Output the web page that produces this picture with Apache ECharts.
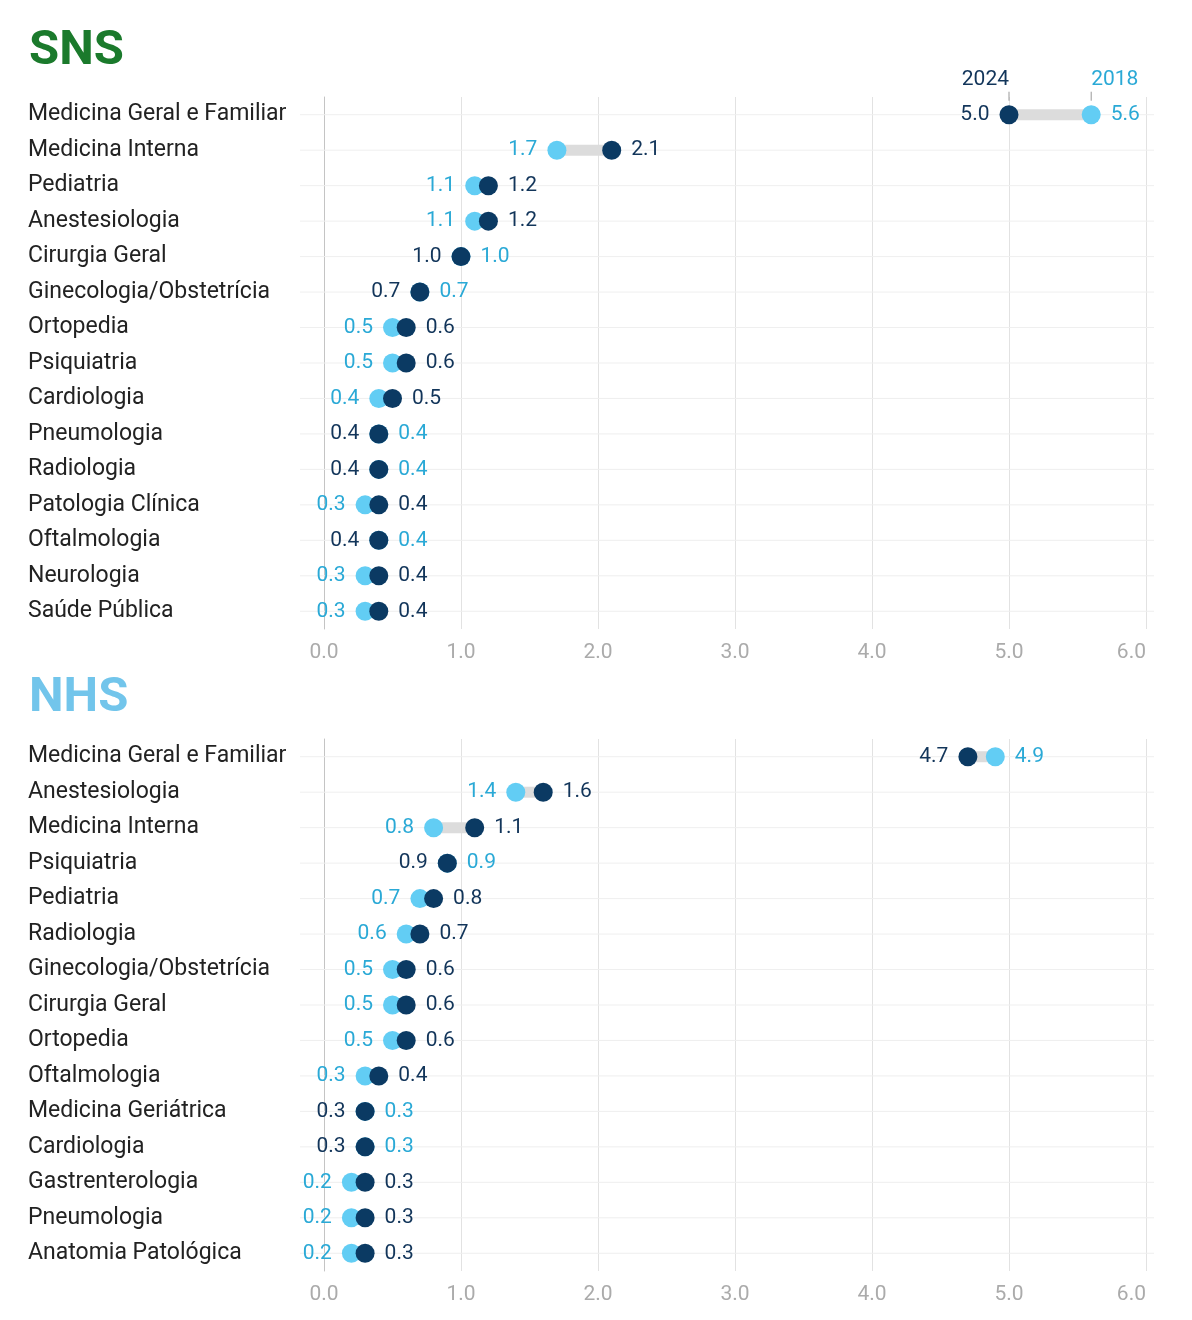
<!DOCTYPE html>
<html>
<head>
<meta charset="utf-8">
<script src="https://cdn.jsdelivr.net/npm/echarts@6/dist/echarts.min.js"></script>
<style>
  html, body { margin: 0; padding: 0; background: #fff; }
  #chart { width: 1192px; height: 1320px; }
</style>
</head>
<body>
<div id="chart"></div>
<script>
const snsCategories = ['Medicina Geral e Familiar', 'Medicina Interna', 'Pediatria', 'Anestesiologia', 'Cirurgia Geral',
  'Ginecologia/Obstetrícia', 'Ortopedia', 'Psiquiatria', 'Cardiologia', 'Pneumologia', 'Radiologia',
  'Patologia Clínica', 'Oftalmologia', 'Neurologia', 'Saúde Pública'];
const sns2024 = [5.0, 2.1, 1.2, 1.2, 1.0, 0.7, 0.6, 0.6, 0.5, 0.4, 0.4, 0.4, 0.4, 0.4, 0.4];
const sns2018 = [5.6, 1.7, 1.1, 1.1, 1.0, 0.7, 0.5, 0.5, 0.4, 0.4, 0.4, 0.3, 0.4, 0.3, 0.3];

const nhsCategories = ['Medicina Geral e Familiar', 'Anestesiologia', 'Medicina Interna', 'Psiquiatria', 'Pediatria',
  'Radiologia', 'Ginecologia/Obstetrícia', 'Cirurgia Geral', 'Ortopedia', 'Oftalmologia', 'Medicina Geriátrica',
  'Cardiologia', 'Gastrenterologia', 'Pneumologia', 'Anatomia Patológica'];
const nhs2024 = [4.7, 1.6, 1.1, 0.9, 0.8, 0.7, 0.6, 0.6, 0.6, 0.4, 0.3, 0.3, 0.3, 0.3, 0.3];
const nhs2018 = [4.9, 1.4, 0.8, 0.9, 0.7, 0.6, 0.5, 0.5, 0.5, 0.3, 0.3, 0.3, 0.2, 0.2, 0.2];

const xTicks = [0, 1, 2, 3, 4, 5, 6];
const years = ['2024', '2018'];

const DARK = '#0b3a63';
const LIGHT = '#62cdf4';
const DARK_TXT = '#12355a';
const LIGHT_TXT = '#2aa9d6';
const FONT = 'Roboto, "Noto Sans", sans-serif';

const chart = echarts.init(document.getElementById('chart'));

const grids = [
  { left: 324, right: 46, top: 97, height: 532 },
  { left: 324, right: 46, top: 739, height: 532 },
];

function xAxis(idx) {
  return {
    gridIndex: idx,
    type: 'value',
    min: xTicks[0],
    max: xTicks[xTicks.length - 1],
    interval: 1,
    axisLine: { show: false },
    axisTick: { show: false },
    splitLine: { lineStyle: { color: '#e2e2e2', width: 1 } },
    axisLabel: {
      color: '#ababab',
      fontSize: 21,
      fontFamily: FONT,
      margin: 13,
      alignMaxLabel: 'right',
      formatter: v => v.toFixed(1),
    },
  };
}

function yAxis(idx, cats) {
  return {
    gridIndex: idx,
    type: 'category',
    inverse: true,
    data: cats,
    axisLine: { show: true, lineStyle: { color: '#c4c4c4' } },
    axisTick: { show: false },
    splitLine: { show: false },
    axisLabel: {
      align: 'left',
      margin: 296,
      color: '#222',
      fontSize: 23,
      fontFamily: FONT,
    },
  };
}

// connector bars, faint row lines and (optionally) the year labels
function connectorSeries(idx, a, b, withLegend) {
  return {
    type: 'custom',
    xAxisIndex: idx,
    yAxisIndex: idx,
    silent: true,
    z: 1,
    data: a.map((v, i) => [v, i, b[i]]),
    encode: { x: [0, 2], y: 1 },
    renderItem: (params, api) => {
      const i = api.value(1);
      const p1 = api.coord([api.value(0), i]);
      const p2 = api.coord([api.value(2), i]);
      const l = api.coord([0, i]);
      const r = api.coord([6, i]);
      const children = [
        {
          type: 'line',
          shape: { x1: l[0] - 24, y1: l[1], x2: r[0] + 8, y2: r[1] },
          style: { stroke: '#efefef', lineWidth: 1 },
        },
        {
          type: 'line',
          shape: { x1: p1[0], y1: p1[1], x2: p2[0], y2: p2[1] },
          style: { stroke: '#dcdcdc', lineWidth: 11 },
        },
      ];
      if (withLegend && params.dataIndex === 0) {
        children.push(
          { type: 'line', shape: { x1: p1[0], y1: p1[1] - 23, x2: p1[0], y2: p1[1] - 14 }, style: { stroke: '#999', lineWidth: 1 } },
          { type: 'line', shape: { x1: p2[0], y1: p2[1] - 23, x2: p2[0], y2: p2[1] - 14 }, style: { stroke: '#999', lineWidth: 1 } },
          { type: 'text', x: p1[0], y: p1[1] - 35, style: { text: years[0], fill: DARK_TXT, font: '21px ' + FONT, align: 'right', verticalAlign: 'middle' } },
          { type: 'text', x: p2[0], y: p2[1] - 35, style: { text: years[1], fill: LIGHT_TXT, font: '21px ' + FONT, align: 'left', verticalAlign: 'middle' } }
        );
      }
      return { type: 'group', children };
    },
  };
}

function dotSeries(idx, name, vals, other, color, txtColor, isNew) {
  return {
    name,
    type: 'scatter',
    xAxisIndex: idx,
    yAxisIndex: idx,
    symbolSize: 19,
    z: isNew ? 4 : 3,
    itemStyle: { color, opacity: 1 },
    data: vals.map((v, i) => {
      // smaller value labelled on the left; on ties 2024 goes left, 2018 right
      const left = isNew ? v <= other[i] : v < other[i];
      return {
        value: [v, i],
        label: { position: left ? 'left' : 'right' },
      };
    }),
    label: {
      show: true,
      distance: 10,
      color: txtColor,
      fontSize: 21,
      fontFamily: FONT,
      formatter: p => p.value[0].toFixed(1),
    },
    emphasis: { disabled: true },
  };
}

chart.setOption({
  animation: false,
  backgroundColor: '#fff',
  title: [
    { text: 'SNS', left: 24, top: 22, textStyle: { color: '#1b7a2c', fontSize: 49, fontWeight: 'bold', fontFamily: FONT } },
    { text: 'NHS', left: 24, top: 669, textStyle: { color: '#72c5eb', fontSize: 49, fontWeight: 'bold', fontFamily: FONT } },
  ],
  grid: grids,
  xAxis: [xAxis(0), xAxis(1)],
  yAxis: [yAxis(0, snsCategories), yAxis(1, nhsCategories)],
  series: [
    connectorSeries(0, sns2024, sns2018, true),
    dotSeries(0, '2018', sns2018, sns2024, LIGHT, LIGHT_TXT, false),
    dotSeries(0, '2024', sns2024, sns2018, DARK, DARK_TXT, true),
    connectorSeries(1, nhs2024, nhs2018, false),
    dotSeries(1, '2018', nhs2018, nhs2024, LIGHT, LIGHT_TXT, false),
    dotSeries(1, '2024', nhs2024, nhs2018, DARK, DARK_TXT, true),
  ],
});
</script>
</body>
</html>
